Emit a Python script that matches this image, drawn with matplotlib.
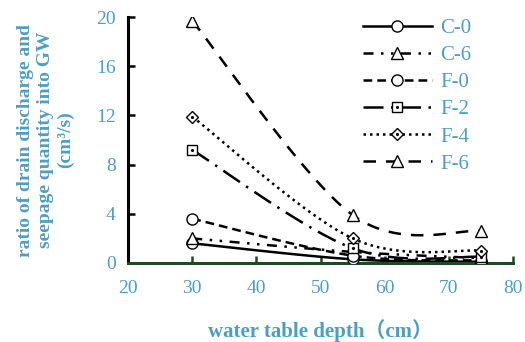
import numpy as np
import matplotlib
matplotlib.use("Agg")
from matplotlib import pyplot as plt
from matplotlib.legend_handler import HandlerTuple

# data
depth = [30, 55, 75]
series_names = ["C-0", "C-6", "F-0", "F-2", "F-4", "F-6"]
c0 = [1.6, 0.3, 0.1]
c6 = [2.0, 0.9, 0.4]
f0 = [3.6, 0.6, 0.2]
f2 = [9.2, 1.2, 0.5]
f4 = [11.9, 2.0, 1.0]
f6 = [19.7, 3.9, 2.6]
x_ticks = [20, 30, 40, 50, 60, 70, 80]
y_ticks = [0, 4, 8, 12, 16, 20]

blue = "#4a9fc8"
fam = ["Liberation Serif", "Noto Sans CJK SC"]
plt.rcParams["font.family"] = fam


def smooth(xs, ys, n=40):
    # excel-like smoothed line through the points (bezier, tension 1/6)
    p = np.column_stack([xs, ys]).astype(float)
    out = []
    for i in range(len(p) - 1):
        p0 = p[i - 1] if i > 0 else p[i]
        p3 = p[i + 2] if i + 2 < len(p) else p[i + 1]
        c1 = p[i] + (p[i + 1] - p0) / 6
        c2 = p[i + 1] - (p3 - p[i]) / 6
        t = np.linspace(0, 1, n)[:, None]
        seg = ((1 - t) ** 3) * p[i] + 3 * ((1 - t) ** 2) * t * c1 + 3 * (1 - t) * t ** 2 * c2 + t ** 3 * p[i + 1]
        out.append(seg if i == 0 else seg[1:])
    s = np.vstack(out)
    return s[:, 0], s[:, 1]


styles = [
    ("-", "o", 8, False),
    ((0, (4, 3, 1, 3, 1, 3)), "^", 8, False),
    ((0, (3.5, 2)), "o", 8, False),
    ((0, (8, 3, 1, 3)), "s", 6.5, True),
    ((0, (1, 1.6)), "D", 6, True),
    ((0, (5, 4)), "^", 8, False),
]
all_vals = [c0, c6, f0, f2, f4, f6]

fig = plt.figure(figsize=(5.25, 3.42), dpi=100)
ax = fig.add_axes([0.244, 0.231, 0.733, 0.719])

handles = []
for name, vals, (ls, mk, ms, dot) in zip(series_names, all_vals, styles):
    sx, sy = smooth(depth, vals)
    line, = ax.plot(sx, sy, color="black", lw=1.8, ls=ls)
    pts, = ax.plot(depth, vals, ls="none", marker=mk, ms=ms, mfc="white",
                   mec="black", mew=1.0, zorder=3)
    h = [line, pts]
    if dot:
        d, = ax.plot(depth, vals, ls="none", marker=".", ms=2.5, color="black", zorder=4)
        h.append(d)
    handles.append(tuple(h))

ax.set_xlim(20, 80)
ax.set_ylim(0, 20)
ax.set_xticks(x_ticks)
ax.set_yticks(y_ticks)
ax.tick_params(axis="both", direction="in", labelsize=14, labelcolor=blue, length=5, width=1.8)
ax.tick_params(axis="x", colors="#1f4a1f", labelcolor=blue, pad=12)
ax.tick_params(axis="y", colors="black", labelcolor=blue, pad=9)
for sp in ["top", "right"]:
    ax.spines[sp].set_visible(False)
ax.spines["left"].set_linewidth(2.2)
ax.spines["bottom"].set_linewidth(2.2)
ax.spines["bottom"].set_color("#1f4a1f")

ax.set_xlabel("water table depth（cm）", fontsize=15, fontweight="bold", color=blue,
              family=fam, labelpad=16)
ax.set_ylabel("ratio of drain discharge and\nseepage quantity into GW\n(cm³/s)",
              fontsize=14, fontweight="bold", color=blue, labelpad=16, linespacing=1.2)

leg = ax.legend(handles, series_names, handler_map={tuple: HandlerTuple(ndivide=1, pad=0)},
                loc="upper right", bbox_to_anchor=(0.94, 1.07), frameon=False, fontsize=15,
                handlelength=3.3, labelspacing=0.36, handletextpad=0.4)
for t in leg.get_texts():
    t.set_color(blue)

fig.savefig("out.png", dpi=100)
